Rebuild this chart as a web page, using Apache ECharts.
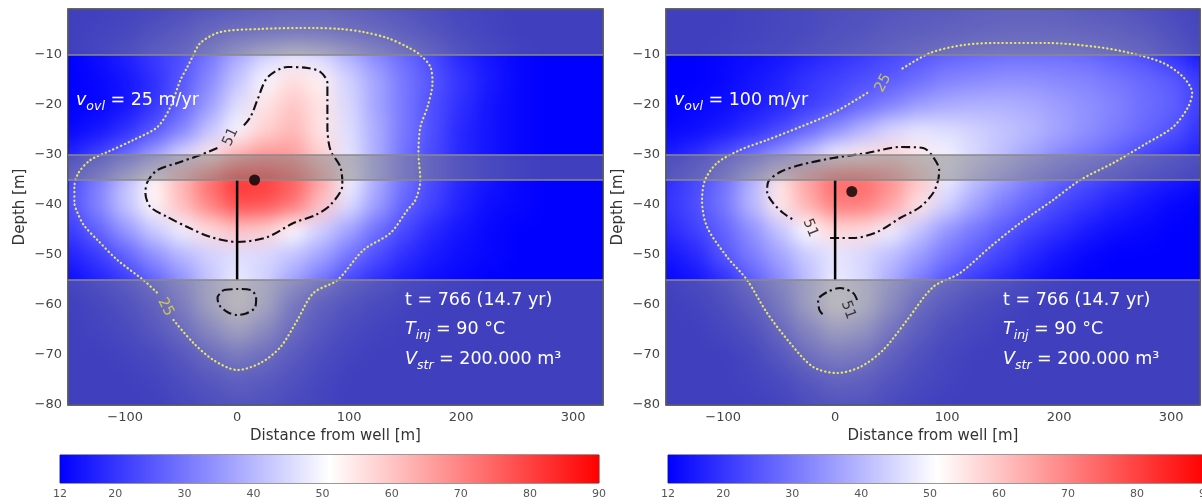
<!DOCTYPE html>
<html><head><meta charset="utf-8">
<script src="https://cdn.jsdelivr.net/npm/echarts@6/dist/echarts.min.js"></script>
<style>
html,body{margin:0;padding:0;background:#fff;width:1202px;height:504px;overflow:hidden;}
.clip{position:absolute;overflow:hidden;z-index:1;}
.heat{position:absolute;filter:blur(10px);}
#main{position:absolute;left:0;top:0;width:1216px;height:504px;z-index:2;}
</style></head><body>
<div class="clip" id="clipL"><div class="heat" id="heatL"></div></div>
<div class="clip" id="clipR"><div class="heat" id="heatR"></div></div>
<div id="main"></div>
<script>
// ---------------- DATA ----------------
const xCenters = [-150,-125,-100,-75,-50,-25,0,25,50,75,100,125,150,175,200,225,250,275,300,325];
const yCenters = [0,-5,-10,-15,-20,-25,-30,-35,-40,-45,-50,-55,-60,-65,-70,-75,-80];

// temperature field, v_ovl = 25 m/yr (rows = yCenters, cols = xCenters)
const tempV25 = [
[12,12,13,14,16,18,20,22,23,23,22,20,18,16,14,13,12,12,12,12],
[12,13,14,17,20,24,26,27,28,28,26,24,21,18,15,13,12,12,12,12],
[12,14,17,21,24,30,38,44,48,45,39,33,28,23,18,15,13,12,12,12],
[12,13,15,19,25,33,42,50,56,53,44,37,30,25,20,16,13,12,12,12],
[12,13,15,20,27,36,46,55,60,55,45,37,30,24,19,15,13,12,12,12],
[13,15,19,25,32,42,50,58,62,55,46,38,30,24,18,15,13,12,12,12],
[17,22,28,36,45,54,63,67,66,58,47,38,29,23,18,15,13,12,12,12],
[23,31,41,52,62,73,82,81,76,65,49,38,29,23,18,15,13,12,12,12],
[24,32,42,52,61,70,78,77,72,60,46,36,27,22,17,14,13,12,12,12],
[21,27,35,43,49,56,60,58,51,44,37,29,23,18,15,13,12,12,12,12],
[17,21,27,34,40,44,46,45,42,37,30,24,19,16,14,13,12,12,12,12],
[14,17,21,27,34,42,48,44,37,30,23,19,16,14,13,12,12,12,12,12],
[12,14,17,22,30,42,53,43,29,22,18,15,13,12,12,12,12,12,12,12],
[12,13,15,19,25,34,42,35,25,19,15,13,12,12,12,12,12,12,12,12],
[12,12,13,15,19,25,30,26,20,16,13,12,12,12,12,12,12,12,12,12],
[12,12,12,13,16,19,22,20,17,14,12,12,12,12,12,12,12,12,12,12],
[12,12,12,12,14,16,18,17,15,13,12,12,12,12,12,12,12,12,12,12]
];
// temperature field, v_ovl = 100 m/yr
const tempV100 = [
[12,12,12,13,14,15,16,17,18,19,20,21,22,22,21,20,19,17,15,13],
[12,12,12,13,14,15,17,18,20,21,22,23,24,24,24,23,22,20,17,14],
[12,12,13,14,15,17,19,21,23,25,27,28,29,29,29,28,26,24,20,16],
[12,12,13,15,17,20,22,24,26,29,32,33,34,34,33,32,30,28,26,21],
[12,13,14,16,18,21,24,28,32,36,38,39,39,38,36,34,32,29,27,22],
[13,14,16,19,23,28,34,40,45,47,46,44,42,40,37,34,31,28,25,20],
[16,19,24,29,35,42,49,54,57,54,49,45,41,37,33,30,27,23,20,17],
[19,23,29,39,55,65,74,74,68,60,48,41,36,31,27,24,21,18,16,14],
[20,24,30,40,54,63,71,71,65,55,44,37,31,27,23,20,17,15,13,12],
[18,22,27,34,42,51,57,56,49,42,35,30,26,22,19,16,14,13,12,12],
[15,18,25,31,37,43,47,45,41,36,30,26,22,18,15,13,12,12,12,12],
[13,15,19,26,33,41,48,45,38,31,25,21,18,15,13,12,12,12,12,12],
[12,13,16,21,29,41,52,46,35,25,20,16,14,12,12,12,12,12,12,12],
[12,12,14,17,24,33,41,38,28,21,16,14,12,12,12,12,12,12,12,12],
[12,12,12,14,19,26,31,29,22,17,14,12,12,12,12,12,12,12,12,12],
[12,12,12,13,15,19,23,22,18,15,13,12,12,12,12,12,12,12,12,12],
[12,12,12,12,13,16,18,18,15,13,12,12,12,12,12,12,12,12,12,12]
];

const colorTicks = [12,20,30,40,50,60,70,80,90];
const xTicks = [-100,0,100,200,300];
const yTicks = [-80,-70,-60,-50,-40,-30,-20,-10];
const layerBands = [[-0.8,-10],[-30,-35],[-55,-80]];
const layerLines = [-10,-30,-35,-55];
const wellScreen = [[0,-35],[0,-55]];
const probeV25 = [[15.6,-35]];
const probeV100 = [[14.9,-37.3]];

// contour 25 (dotted) and 51 (dash-dot), v = 25 m/yr
const c25V25 = [[-56.8,-63],[-39,-67.6],[-21.2,-71],[0.3,-73],[20.8,-71.6],[38.7,-68.4],[53.8,-63],[68.1,-57.6],[89.6,-55],[112.8,-49],[136.9,-45.6],[152,-41],[159.2,-39],[163.6,-35],[161.9,-29.6],[163.6,-24.4],[169.9,-20.4],[174.4,-15.6],[172.6,-12.4],[163.6,-10],[152,-8.4],[134.2,-6.6],[112.8,-5.4],[92.3,-4.8],[68.2,-4.6],[56.5,-4.6],[20.8,-4.8],[-14.9,-5.4],[-32.8,-7.6],[-39.9,-10.4],[-44.4,-12.4],[-50.6,-15],[-59.6,-20.4],[-71.2,-24.4],[-92.6,-27],[-115.8,-29.4],[-131,-31],[-141.7,-33.6],[-145.3,-36.4],[-145.3,-39.5],[-142.6,-41.5],[-137,-44],[-124.7,-47],[-106.9,-51],[-83.7,-55],[-71.2,-57.6]];
const c51V25 = [[-17.6,-28.6],[-32.8,-30],[-53.3,-31.6],[-71.2,-33],[-80.1,-35.4],[-81.9,-37.6],[-77.4,-40.4],[-62.2,-42.4],[-44.4,-44.4],[-23.8,-46.4],[0.3,-47.4],[27.1,-46.4],[50.3,-43.6],[69.9,-42],[83.3,-40],[94,-36],[92.2,-32.4],[83.3,-29],[80.6,-24.4],[80.6,-19],[80.6,-15.6],[74.4,-13.4],[62.8,-12.6],[44.9,-12.4],[27.1,-14.5],[18.1,-19],[11.9,-22.4],[4,-24.6]];
const c51bV25 = [[-12,-57],[0,-56.8],[12,-57],[17,-58.5],[16,-60.5],[8,-61.7],[0,-62],[-8,-61.5],[-16,-60],[-17.5,-58.5],[-12,-57]];
const labelsV25 = [[-5.8,-26.4,'51',65],[-63.8,-60.4,'25',-63]];

// contours, v = 100 m/yr
const c25V100 = [[28.6,-17.6],[-1.8,-21.6],[-31.3,-24.4],[-60.7,-27],[-84.8,-29],[-105.4,-31.6],[-116.1,-35],[-118.8,-39],[-114.3,-44.4],[-96.4,-50.4],[-78.6,-55],[-60.7,-61.6],[-40.2,-67.6],[-19.6,-72.4],[1.8,-73.6],[22.3,-72.4],[42.9,-69],[64.3,-63],[87.5,-56.4],[111.6,-53.6],[138.4,-48.4],[165.2,-43.6],[194.6,-39],[218.8,-35],[248.2,-31.6],[278.6,-27.6],[301.8,-24.4],[315.2,-20.4],[318.8,-17.6],[310.7,-14.4],[292.9,-11.6],[263.4,-9.6],[233.9,-8.4],[189.3,-7.6],[144.6,-7.6],[114.3,-8],[84.8,-9.6],[58,-13]];
const c51V100 = [[-4.5,-46.6],[16.1,-46.6],[37.5,-45.4],[58,-42.6],[75.9,-40.4],[87.5,-37.6],[92,-35],[92.9,-33],[87.5,-30.4],[78.6,-28.6],[58,-28.4],[28.6,-29.6],[-1.8,-30.6],[-31.3,-32],[-49.1,-33.4],[-59.8,-35.4],[-60.7,-37.4],[-55.4,-39.6],[-46.4,-41.6],[-37,-43]];
const c51bV100 = [[19.6,-59],[16.1,-57.6],[4.5,-56.6],[-7.1,-57.4],[-15.2,-59],[-14,-61],[-10.7,-62]];
const labelsV100 = [[42.9,-15.6,'25',62],[-22.3,-44.6,'51',-68],[11.6,-61,'51',-70]];

const velocityText = ['{i|v}{s|ovl}{n| = 25 m/yr}', '{i|v}{s|ovl}{n| = 100 m/yr}'];
const infoText = ['{n|t = 766 (14.7 yr)}', '{i|T}{s|inj}{n| = 90 °C}', '{i|V}{s|str}{n| = 200.000 m³}'];

// ---------------- LAYOUT / STYLE ----------------
const FONT = 'DejaVu Sans';
const CMAP = ['#0000ff', '#ffffff', '#ff0000'];
const T_MIN = 12, T_MAX = 90;
const X_MIN = -151, Y_MIN = -80, Y_MAX = -0.8;
const PX_PER_M = 1.12;
const PANELS = [
  {left: 68, top: 9, width: 535, height: 396},
  {left: 666, top: 9, width: 534, height: 396}
];
PANELS.forEach(p => { p.xmax = X_MIN + p.width / PX_PER_M; });
const BARS = [
  {left: 60, top: 455, width: 539, height: 28},
  {left: 668, top: 455, width: 539, height: 28}
];
const EXT = 40;
const DX = xCenters[1] - xCenters[0];
const DY = yCenters[0] - yCenters[1];

// ---------------- HEAT LAYERS ----------------
function renderCell(params, api) {
  const x = api.value(0), y = api.value(1);
  const a = api.coord([x - DX / 2, y + DY / 2]);
  const b = api.coord([x + DX / 2, y - DY / 2]);
  let x0 = a[0], y0 = a[1], x1 = b[0], y1 = b[1];
  if (x === xCenters[0]) x0 -= EXT;
  if (x === xCenters[xCenters.length - 1]) x1 += EXT;
  if (y === yCenters[0]) y0 -= EXT;
  if (y === yCenters[yCenters.length - 1]) y1 += EXT;
  return {type: 'rect', shape: {x: x0, y: y0, width: x1 - x0 + 0.7, height: y1 - y0 + 0.7},
          style: {fill: api.visual('color')}};
}
function makeHeat(clipId, heatId, panel, temps) {
  const clip = document.getElementById(clipId);
  clip.style.left = panel.left + 'px'; clip.style.top = panel.top + 'px';
  clip.style.width = panel.width + 'px'; clip.style.height = panel.height + 'px';
  const h = document.getElementById(heatId);
  h.style.left = (-EXT) + 'px'; h.style.top = (-EXT) + 'px';
  h.style.width = (panel.width + 2 * EXT) + 'px'; h.style.height = (panel.height + 2 * EXT) + 'px';
  const data = [];
  yCenters.forEach((y, i) => xCenters.forEach((x, j) => data.push([x, y, temps[i][j]])));
  const c = echarts.init(h, null, {renderer: 'canvas'});
  c.setOption({
    animation: false,
    grid: {left: EXT, top: EXT, width: panel.width, height: panel.height},
    xAxis: {type: 'value', min: X_MIN, max: panel.xmax, show: false},
    yAxis: {type: 'value', min: Y_MIN, max: Y_MAX, show: false},
    visualMap: {type: 'continuous', show: false, min: T_MIN, max: T_MAX, dimension: 2, inRange: {color: CMAP}},
    series: [{type: 'custom', renderItem: renderCell, data: data, encode: {x: 0, y: 1}, clip: false}]
  });
}
makeHeat('clipL', 'heatL', PANELS[0], tempV25);
makeHeat('clipR', 'heatR', PANELS[1], tempV100);

// ---------------- MAIN LAYER ----------------
const minus = v => String(v).replace('-', '\u2212');
const grids = PANELS.map(p => ({left: p.left, top: p.top, width: p.width, height: p.height,
  show: true, borderColor: '#333', borderWidth: 1.5, backgroundColor: 'transparent', containLabel: false}))
  .concat(BARS.map(b => ({left: b.left, top: b.top, width: b.width, height: b.height,
  show: true, borderColor: '#333', borderWidth: 1, backgroundColor: 'transparent', containLabel: false})));

const xAxes = PANELS.map((p, i) => ({
  type: 'value', gridIndex: i, min: X_MIN, max: p.xmax,
  axisLine: {show: false}, axisTick: {show: false, customValues: xTicks}, splitLine: {show: false},
  axisLabel: {customValues: xTicks, formatter: v => xTicks.includes(v) ? minus(v) : '',
    color: '#444', fontSize: 13, fontFamily: FONT, margin: 6},
  name: 'Distance from well [m]', nameLocation: 'middle', nameGap: 22,
  nameTextStyle: {color: '#333', fontSize: 15, fontFamily: FONT}
})).concat(BARS.map((b, i) => ({
  type: 'value', gridIndex: 2 + i, min: T_MIN, max: T_MAX,
  axisLine: {show: false}, axisTick: {show: false}, splitLine: {show: false},
  axisLabel: {customValues: colorTicks, formatter: v => colorTicks.includes(v) ? String(v) : '',
    color: '#555', fontSize: 11, fontFamily: FONT, margin: 6}
})));
const yAxes = PANELS.map((p, i) => ({
  type: 'value', gridIndex: i, min: Y_MIN, max: Y_MAX,
  axisLine: {show: false}, axisTick: {show: false, customValues: yTicks}, splitLine: {show: false},
  axisLabel: {customValues: yTicks, formatter: v => yTicks.includes(v) ? minus(v) : '',
    color: '#444', fontSize: 13, fontFamily: FONT, margin: 6},
  name: 'Depth [m]', nameLocation: 'middle', nameGap: 40, nameRotate: 90,
  nameTextStyle: {color: '#333', fontSize: 15, fontFamily: FONT}
})).concat(BARS.map((b, i) => ({
  type: 'value', gridIndex: 2 + i, min: 0, max: 1, show: false
})));

const series = [];
const panelData = [
  {c25: [c25V25], c51: [c51V25, c51bV25], labels: labelsV25, probe: probeV25},
  {c25: [c25V100], c51: [c51V100, c51bV100], labels: labelsV100, probe: probeV100}
];
panelData.forEach((pd, i) => {
  series.push({
    type: 'line', xAxisIndex: i, yAxisIndex: i, data: [], silent: true, z: 1,
    markArea: {silent: true, itemStyle: {color: 'rgba(128,128,128,0.5)'},
      data: layerBands.map(b => [{yAxis: b[0]}, {yAxis: b[1]}])},
    markLine: {silent: true, symbol: 'none', label: {show: false},
      lineStyle: {color: '#8a8a8a', width: 1.6, type: 'solid'},
      data: layerLines.map(v => ({yAxis: v}))}
  });
  pd.c25.forEach(seg => series.push({
    type: 'line', xAxisIndex: i, yAxisIndex: i, data: seg, showSymbol: false, smooth: 0.3, z: 3, silent: true,
    lineStyle: {color: '#e8e860', width: 2.2, type: [0.4, 3.8], cap: 'round'}
  }));
  pd.c51.forEach(seg => series.push({
    type: 'line', xAxisIndex: i, yAxisIndex: i, data: seg, showSymbol: false, smooth: 0.3, z: 3, silent: true,
    lineStyle: {color: '#111', width: 2.1, type: [9, 3.5, 2.2, 3.5]}
  }));
  series.push({
    type: 'line', xAxisIndex: i, yAxisIndex: i, data: wellScreen, showSymbol: false, z: 4, silent: true,
    lineStyle: {color: '#000', width: 2.5}
  });
  series.push({
    type: 'scatter', xAxisIndex: i, yAxisIndex: i, data: pd.probe, symbolSize: 11, z: 5, silent: true,
    itemStyle: {color: '#000'}
  });
  series.push({
    type: 'scatter', xAxisIndex: i, yAxisIndex: i, symbolSize: 1, z: 5, silent: true,
    itemStyle: {color: 'rgba(0,0,0,0)'},
    data: pd.labels.map(l => ({value: [l[0], l[1]], label: {show: true, position: 'inside',
      formatter: l[2], rotate: l[3], color: l[2] === '25' ? '#e0e030' : '#111',
      fontSize: 14.5, fontFamily: FONT}}))
  });
});
BARS.forEach((b, i) => series.push({
  type: 'line', xAxisIndex: 2 + i, yAxisIndex: 2 + i, data: [], silent: true,
  markArea: {silent: true,
    itemStyle: {color: {type: 'linear', x: 0, y: 0, x2: 1, y2: 0,
      colorStops: CMAP.map((c, k) => ({offset: k / (CMAP.length - 1), color: c}))}},
    data: [[{xAxis: T_MIN, yAxis: 0}, {xAxis: T_MAX, yAxis: 1}]]}
}));

const rich = {
  n: {fontSize: 17.5, fontFamily: FONT, fill: '#fff', color: '#fff', lineHeight: 26, verticalAlign: 'middle'},
  i: {fontSize: 17.5, fontFamily: FONT, fontStyle: 'italic', fill: '#fff', color: '#fff', lineHeight: 26, verticalAlign: 'middle'},
  s: {fontSize: 12.5, fontFamily: FONT, fontStyle: 'italic', fill: '#fff', color: '#fff', lineHeight: 17, verticalAlign: 'bottom'}
};
const graphics = [];
const vPos = [[76, 100], [674, 100]];
const infoPos = [[405, 300], [1003, 300]];
const infoStep = 29.5;
[0, 1].forEach(i => {
  graphics.push({type: 'text', x: vPos[i][0], y: vPos[i][1], z: 10,
    style: {text: velocityText[i], rich: rich, align: 'left', verticalAlign: 'middle'}});
  infoText.forEach((t, k) => graphics.push({type: 'text', x: infoPos[i][0], y: infoPos[i][1] + k * infoStep, z: 10,
    style: {text: t, rich: rich, align: 'left', verticalAlign: 'middle'}}));
});

const main = echarts.init(document.getElementById('main'), null, {renderer: 'canvas'});
main.setOption({
  animation: false,
  backgroundColor: 'transparent',
  grid: grids, xAxis: xAxes, yAxis: yAxes, series: series, graphic: graphics
});
</script>
</body></html>
